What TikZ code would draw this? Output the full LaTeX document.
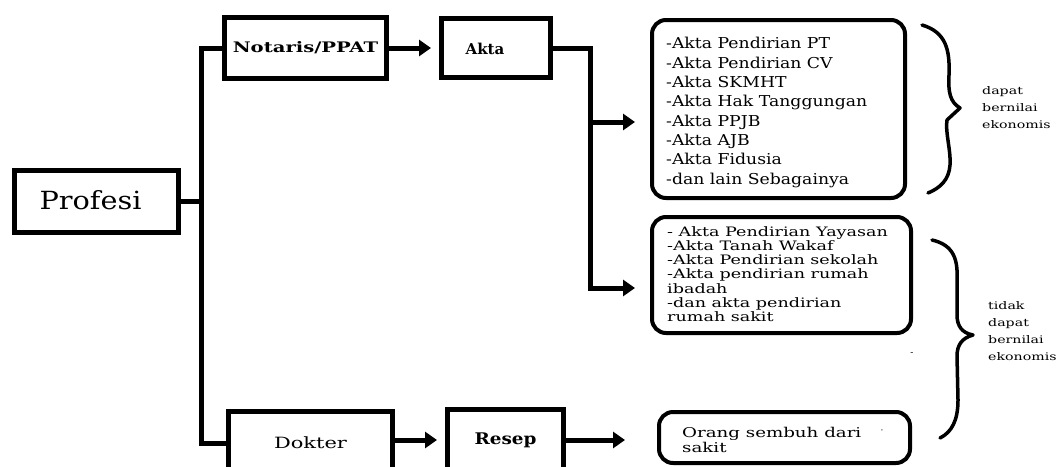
\documentclass[tikz,border=0pt]{standalone}
\usepackage{fontspec}
\setmainfont{DejaVu Serif}
\newfontfamily\wa[FakeStretch=1.15]{DejaVu Serif}
\newfontfamily\wb[FakeStretch=1.35]{DejaVu Serif}
\usetikzlibrary{arrows.meta}
\begin{document}
\begin{tikzpicture}[x=1pt,y=-1pt,
  sqbox/.style={draw,line width=5pt,inner sep=0pt},
  rbox/.style={draw,line width=4pt,rounded corners=14pt,inner sep=0pt},
  conn/.style={line width=5pt},
  arr/.style={line width=5pt,-{Triangle[length=12pt,width=16pt]}},
  brace/.style={line width=3.5pt,line cap=round,line join=round},
  lst/.style={anchor=west,align=left,inner sep=0pt},
  side/.style={anchor=west,align=left,inner sep=0pt,font=\wb\fontsize{10.5}{17}\selectfont}]
\useasboundingbox (0,0) rectangle (1064,466);
% main boxes
\node[sqbox,minimum width=164pt,minimum height=62pt] (profesi) at (96.5,201.5) {};
\node[inner sep=0pt,font=\wa\fontsize{25}{28}\selectfont] (lprofesi) at (90.5,200) {Profesi};
\node[sqbox,minimum width=162pt,minimum height=61pt,font=\wb\bfseries\fontsize{14.5}{16}\selectfont] (notaris) at (305.5,48) {Notaris/PPAT};
\node[sqbox,minimum width=109pt,minimum height=59pt] (akta) at (496,48) {};
\node[inner sep=0pt,font=\bfseries\fontsize{15}{17}\selectfont] (lakta) at (485,49) {Akta};
\node[sqbox,minimum width=164pt,minimum height=63pt,font=\wb\fontsize{15.5}{17}\selectfont] (dokter) at (310.5,443) {Dokter};
\node[sqbox,minimum width=116pt,minimum height=62pt,font=\wa\bfseries\fontsize{16}{17}\selectfont] (resep) at (505.5,440) {Resep};
% rounded boxes
\node[rbox,minimum width=253pt,minimum height=178pt] (b1) at (778.5,109) {};
\node[rbox,minimum width=259pt,minimum height=116pt] (b2) at (781.5,275) {};
\node[rbox,minimum width=251pt,minimum height=51pt] (b3) at (784.5,437.5) {};
% texts in rounded boxes
\node[lst,font=\wa\fontsize{15}{19.3}\selectfont] (t1) at (666,112.5) {-Akta Pendirian PT\\-Akta Pendirian CV\\-Akta SKMHT\\-Akta Hak Tanggungan\\-Akta PPJB\\-Akta AJB\\-Akta Fidusia\\-dan lain Sebagainya};
\node[lst,font=\wb\fontsize{13}{14.2}\selectfont] (t2) at (667,274) {- Akta Pendirian Yayasan\\-Akta Tanah Wakaf\\-Akta Pendirian sekolah\\-Akta pendirian rumah\\ibadah\\-dan akta pendirian\\rumah sakit};
\node[lst,font=\wb\fontsize{13.5}{15}\selectfont] (t3) at (682,440) {Orang sembuh dari\\sakit};
\node[inner sep=0pt,font=\fontsize{9}{9}\selectfont] (dot) at (882,432) {·};
\node[inner sep=0pt,font=\fontsize{9}{9}\selectfont] (dash) at (912,354) {-};
% side labels
\node[side] (s1) at (982,108) {dapat\\bernilai\\ekonomis};
\node[side] (s2) at (988,331.5) {tidak\\dapat\\bernilai\\ekonomis};
% connectors
\coordinate (vtop) at (201,48);
\coordinate (vmid) at (201,201.5);
\coordinate (vbot) at (201,443);
\draw[conn] (notaris.west) -- (vtop) -- (vbot) -- (dokter.west);
\draw[conn] (profesi.east) -- (vmid);
\draw[arr,shorten >=8pt] (notaris.east) -- (akta.west);
\coordinate (ak1) at (590,48);
\coordinate (ak2) at (590,122);
\coordinate (ak3) at (590,288);
\draw[conn] (akta.east) -- (ak1) -- (ak3);
\draw[arr,shorten >=15pt] (ak2) -- (ak2 -| b1.west);
\draw[arr,shorten >=15pt] ([xshift=-2.5pt]ak3) -- (ak3 -| b2.west);
\draw[arr,shorten >=8pt] (dokter.east |- resep.west) -- (resep.west);
\draw[arr,shorten >=32pt] (resep.east) -- (resep.east -| b3.west);
% braces
\draw[brace] (922,25) .. controls (946,32) and (950,50) .. (949,75) .. controls (948,92) and (950,102) .. (960,108) -- (947,120) .. controls (945,132) and (951,150) .. (950,165) .. controls (949,180) and (940,188) .. (928,193);
\draw[brace] (932,240) .. controls (954,245) and (958,260) .. (957,280) -- (957,315) .. controls (957,326) and (962,333) .. (973,335) .. controls (962,338) and (957,345) .. (957,356) -- (958,400) .. controls (958,420) and (952,432) .. (940,438);
\end{tikzpicture}
\end{document}
